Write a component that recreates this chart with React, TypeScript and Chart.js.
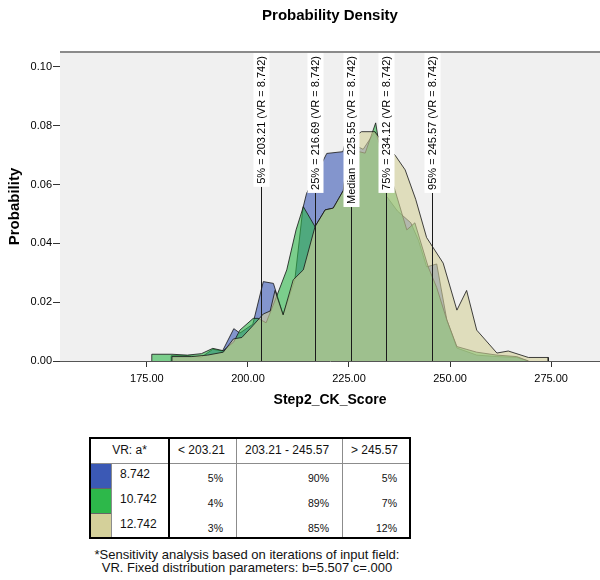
import React, { useEffect, useRef } from "react";
import { Chart, registerables } from "chart.js";

Chart.register(...registerables);

const FONT = '"Liberation Sans", Arial, Helvetica, sans-serif';

const chartTitle = "Probability Density";
const xTitle = "Step2_CK_Score";
const yTitle = "Probability";
const xTicks = [175, 200, 225, 250, 275];
const yTicks = [0, 0.02, 0.04, 0.06, 0.08, 0.1];

const seriesNames = ["8.742", "10.742", "12.742"];

// VR = 8.742
const blueX = [181, 181, 185, 188.5, 191.3, 193.7, 196.5, 198, 201.2, 203.8, 206.3, 208.7, 211.6, 213.6, 214.5, 219.5, 223.5, 224.2, 228.5, 231.4, 232.3, 234.3, 237, 240.3, 242.2, 244.2, 246.7, 249.2, 251.7, 256.6, 261.6, 266.5, 269.4];
const blueY = [0, 0.0018, 0.0018, 0.0013, 0.004, 0.0034, 0.011, 0.0095, 0.0125, 0.027, 0.0264, 0.0157, 0.0276, 0.052, 0.057, 0.0706, 0.0712, 0.075, 0.072, 0.078, 0.075, 0.056, 0.051, 0.047, 0.041, 0.032, 0.033, 0.014, 0.0044, 0.002, 0.0015, 0.0012, 0];

// VR = 10.742
const greenX = [176.2, 176.2, 181.2, 185, 188.5, 191.3, 193.9, 196.5, 198, 201.3, 202.5, 204.5, 207.1, 209.6, 211.9, 213.7, 216.6, 219.1, 221.1, 223.6, 225, 229, 231.6, 232.3, 234.3, 236.4, 239.3, 241.3, 244.6, 246.7, 249.2, 251.7, 256.6, 261.6, 266.5, 269.4];
const greenY = [0, 0.0023, 0.0023, 0.002, 0.0025, 0.0043, 0.0035, 0.0065, 0.0105, 0.0145, 0.0145, 0.013, 0.022, 0.031, 0.0446, 0.0525, 0.0457, 0.0514, 0.052, 0.058, 0.072, 0.0707, 0.081, 0.075, 0.067, 0.058, 0.0446, 0.047, 0.032, 0.025, 0.014, 0.0049, 0.003, 0.002, 0.0015, 0];

// VR = 12.742
const tanX = [181.2, 181.2, 186, 190, 193.9, 196.4, 198.5, 201.2, 203.8, 205.5, 206.7, 208.7, 211.2, 213.7, 216.6, 219.1, 221.1, 223.6, 225, 228.1, 231.4, 233, 236.4, 238.9, 241.5, 244.2, 248.3, 251.7, 254.1, 256.6, 261.6, 264.4, 269.4, 274.3, 274.3];
const tanY = [0, 0.0015, 0.0015, 0.002, 0.003, 0.0075, 0.008, 0.012, 0.016, 0.017, 0.024, 0.0157, 0.0276, 0.031, 0.0457, 0.0514, 0.052, 0.058, 0.075, 0.078, 0.078, 0.075, 0.07, 0.065, 0.055, 0.042, 0.0333, 0.0173, 0.024, 0.0105, 0.0027, 0.0034, 0.0012, 0.0012, 0];

const seriesColors = ["rgb(59,89,181)", "rgb(45,184,74)", "rgb(212,208,154)"];
const seriesFills = ["rgba(59,89,181,0.6)", "rgba(45,184,74,0.6)", "rgba(212,208,154,0.6)"];

const percentileNames = ["5%", "25%", "Median", "75%", "95%"];
const percentileValues = [203.21, 216.69, 225.55, 234.12, 245.57];
const percentileVR = "8.742";

const tableHeader = "VR: a*";
const rangeHeaders = ["< 203.21", "203.21 - 245.57", "> 245.57"];
const belowPct = ["5%", "4%", "3%"];
const middlePct = ["90%", "89%", "85%"];
const abovePct = ["5%", "7%", "12%"];
const footnoteLines = [
  "*Sensitivity analysis based on iterations of input field:",
  "VR. Fixed distribution parameters: b=5.507 c=.000",
];

const toPoints = (xs: number[], ys: number[]) => xs.map((x, i) => ({ x, y: ys[i] }));

const plotBgPlugin = {
  id: "plotBg",
  beforeDatasetsDraw(chart: any) {
    const { ctx, chartArea } = chart;
    ctx.save();
    ctx.fillStyle = "#f0f0f0";
    ctx.fillRect(chartArea.left, chartArea.top, chartArea.right - chartArea.left, chartArea.bottom - chartArea.top);
    ctx.fillStyle = "#8a8a8a";
    ctx.fillRect(chartArea.left, chartArea.top - 1, chartArea.right - chartArea.left, 2);
    ctx.restore();
  },
};

const percentilePlugin = {
  id: "percentiles",
  afterDatasetsDraw(chart: any) {
    const { ctx, chartArea } = chart;
    const xs = chart.scales.x;
    ctx.save();
    ctx.font = `11px ${FONT}`;
    percentileNames.forEach((name, i) => {
      const v = percentileValues[i];
      const px = Math.round(xs.getPixelForValue(v)) + 0.5;
      const text = `${name} = ${v.toFixed(2)} (VR = ${percentileVR})`;
      const tw = ctx.measureText(text).width;
      const top = chartArea.top + 1;
      const bottom = top + tw + 6;
      ctx.strokeStyle = "#1a1a1a";
      ctx.lineWidth = 1;
      ctx.beginPath();
      ctx.moveTo(px, bottom);
      ctx.lineTo(px, chartArea.bottom);
      ctx.stroke();
      ctx.fillStyle = "#ffffff";
      ctx.fillRect(px - 8, top, 16, bottom - top);
      ctx.save();
      ctx.translate(px + 0.5, bottom - 3);
      ctx.rotate(-Math.PI / 2);
      ctx.fillStyle = "#000";
      ctx.textAlign = "left";
      ctx.textBaseline = "middle";
      ctx.fillText(text, 0, 0);
      ctx.restore();
    });
    ctx.restore();
  },
};

function DensityChart() {
  const ref = useRef<HTMLCanvasElement | null>(null);
  useEffect(() => {
    if (!ref.current) return;
    const xs = [blueX, greenX, tanX];
    const ys = [blueY, greenY, tanY];
    const chart = new Chart(ref.current, {
      type: "line",
      data: {
        datasets: seriesNames.map((name, i) => ({
          label: name,
          data: toPoints(xs[i], ys[i]),
          borderColor: "rgba(20,20,20,0.8)",
          borderWidth: 1,
          backgroundColor: seriesFills[i],
          fill: "origin",
          pointRadius: 0,
          tension: 0,
          order: 3 - i,
        })),
      },
      options: {
        animation: false,
        responsive: false,
        devicePixelRatio: 1,
        plugins: {
          legend: { display: false },
          tooltip: { enabled: false },
          title: {
            display: true,
            fullSize: false,
            text: chartTitle,
            color: "#000",
            font: { family: FONT, size: 15, weight: "bold" },
            padding: { top: 7, bottom: 27 },
          },
        },
        layout: { padding: 0 },
        scales: {
          x: {
            type: "linear",
            min: 153.5,
            max: 287.1,
            afterBuildTicks: (a: any) => {
              a.ticks = xTicks.map((v) => ({ value: v }));
            },
            afterFit: (s: any) => {
              s.height = 49;
            },
            ticks: {
              callback: (v: any) => Number(v).toFixed(2),
              color: "#000",
              font: { family: FONT, size: 11 },
              padding: 5,
              maxRotation: 0,
              autoSkip: false,
            },
            grid: { drawOnChartArea: false, drawTicks: true, tickLength: 6, color: "#333" },
            border: { display: true, color: "#555" },
            title: {
              display: true,
              text: xTitle,
              color: "#000",
              font: { family: FONT, size: 14, weight: "bold" },
              padding: { top: 0, bottom: 1 },
            },
          },
          y: {
            min: 0,
            max: 0.1051,
            afterBuildTicks: (a: any) => {
              a.ticks = yTicks.map((v) => ({ value: v }));
            },
            afterFit: (s: any) => {
              s.width = 60;
            },
            ticks: {
              callback: (v: any) => Number(v).toFixed(2),
              color: "#000",
              font: { family: FONT, size: 11 },
              padding: 1,
              autoSkip: false,
            },
            grid: { drawOnChartArea: false, drawTicks: true, tickLength: 7, color: "#333" },
            border: { display: true, color: "#555" },
            title: {
              display: true,
              text: yTitle,
              color: "#000",
              font: { family: FONT, size: 15, weight: "bold" },
              padding: { top: 6, bottom: 0 },
            },
          },
        },
      } as any,
      plugins: [plotBgPlugin, percentilePlugin],
    });
    return () => chart.destroy();
  }, []);
  return (
    <canvas
      ref={ref}
      width={600}
      height={410}
      style={{ position: "absolute", left: 0, top: 0, width: 600, height: 410 }}
    />
  );
}

const colX = [90, 111, 169, 236, 342, 410];
const rowY = [438, 463, 488, 513, 538];

function Line({ x, y, w, h, c }: { x: number; y: number; w: number; h: number; c: string }) {
  return <div style={{ position: "absolute", left: x, top: y, width: w, height: h, background: c }} />;
}

function Txt({ x, y, w, h, align, size, children, pad }: any) {
  return (
    <div
      style={{
        position: "absolute",
        left: x,
        top: y,
        width: w,
        height: h,
        lineHeight: `${h}px`,
        textAlign: align,
        fontFamily: FONT,
        fontSize: size,
        color: "#111",
        whiteSpace: "nowrap",
        boxSizing: "border-box",
        paddingLeft: align === "left" ? pad : 0,
        paddingRight: align === "right" ? pad : 0,
      }}
    >
      {children}
    </div>
  );
}

function SummaryTable() {
  const rowVals = [belowPct, middlePct, abovePct];
  return (
    <>
      {seriesColors.map((c, i) => (
        <div
          key={"sw" + i}
          style={{ position: "absolute", left: colX[0], top: rowY[i + 1], width: colX[1] - colX[0], height: rowY[i + 2] - rowY[i + 1], background: c }}
        />
      ))}
      <Txt x={colX[0]} y={rowY[0]} w={colX[2] - colX[0]} h={25} align="center" size={12}>{tableHeader}</Txt>
      {rangeHeaders.map((t, j) => (
        <Txt key={"h" + j} x={colX[j + 2]} y={rowY[0]} w={colX[j + 3] - colX[j + 2]} h={25} align="left" size={12} pad={9}>{t}</Txt>
      ))}
      {seriesNames.map((n, i) => (
        <Txt key={"n" + i} x={colX[1]} y={rowY[i + 1] - 1} w={colX[2] - colX[1]} h={25} align="left" size={12} pad={9}>{n}</Txt>
      ))}
      {seriesNames.map((_, i) =>
        rowVals.map((vals, j) => (
          <Txt key={`v${i}-${j}`} x={colX[j + 2]} y={rowY[i + 1] + 3} w={colX[j + 3] - colX[j + 2]} h={25} align="right" size={10.5} pad={13}>{vals[i]}</Txt>
        ))
      )}
      <Line x={colX[0]} y={rowY[2]} w={colX[1] - colX[0]} h={1} c="#666" />
      <Line x={colX[0]} y={rowY[3]} w={colX[1] - colX[0]} h={1} c="#666" />
      <Line x={colX[0]} y={rowY[1]} w={colX[5] - colX[0]} h={1} c="#8c8c8c" />
      <Line x={colX[1]} y={rowY[1]} w={1} h={rowY[4] - rowY[1]} c="#8c8c8c" />
      <Line x={colX[3]} y={rowY[0]} w={1} h={rowY[4] - rowY[0]} c="#8c8c8c" />
      <Line x={colX[4]} y={rowY[0]} w={1} h={rowY[4] - rowY[0]} c="#8c8c8c" />
      <Line x={colX[2] - 1} y={rowY[0]} w={2} h={rowY[4] - rowY[0]} c="#000" />
      <div
        style={{
          position: "absolute",
          left: colX[0] - 1,
          top: rowY[0] - 1,
          width: colX[5] - colX[0] + 2,
          height: rowY[4] - rowY[0] + 2,
          border: "2px solid #000",
          boxSizing: "border-box",
        }}
      />
      {footnoteLines.map((t, i) => (
        <div
          key={"f" + i}
          style={{
            position: "absolute",
            left: 47,
            width: 400,
            top: 547 + i * 13,
            textAlign: "center",
            fontFamily: FONT,
            fontSize: 13,
            lineHeight: "15px",
            color: "#111",
            whiteSpace: "nowrap",
          }}
        >
          {t}
        </div>
      ))}
    </>
  );
}

export default function App() {
  return (
    <div style={{ position: "absolute", left: 0, top: 0, width: 600, height: 580, background: "#fff", overflow: "hidden" }}>
      <DensityChart />
      <SummaryTable />
    </div>
  );
}
